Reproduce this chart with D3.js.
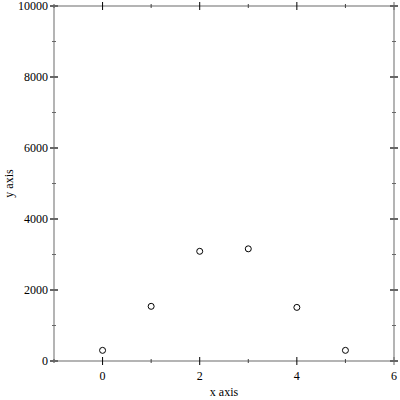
<!DOCTYPE html>
<html><head><meta charset="utf-8">
<script src="https://cdn.jsdelivr.net/npm/d3@7"></script>
<style>body{margin:0;background:#fff}svg{display:block}text{font-family:"Liberation Serif","Times New Roman",serif;font-size:12px;fill:#000}</style>
</head><body><svg id="c" width="400" height="400"></svg>
<script>
const xValues = [0, 1, 2, 3, 4, 5];
const yValues = [300, 1540, 3090, 3160, 1510, 300];
const xMajorTicks = [0, 2, 4, 6];
const xMinorTicks = [-1, 1, 3, 5];
const yMajorTicks = [0, 2000, 4000, 6000, 8000, 10000];
const yMinorTicks = [1000, 3000, 5000, 7000, 9000];
const xLabel = "x axis", yLabel = "y axis";

const svg = d3.select("#c");
const L = 54, R = 394, T = 6, B = 361;
const x = d3.scaleLinear().domain([-1, 6]).range([L, R]);
const y = d3.scaleLinear().domain([0, 10000]).range([B, T]);

// frame
svg.append("rect").attr("x", L).attr("y", T).attr("width", R - L).attr("height", B - T)
  .attr("fill", "none").attr("stroke", "#b4b4b4").attr("stroke-width", 2);

// x ticks bottom & top
const xt = svg.append("g");
function xtick(v, len, col) {
  [B, T].forEach(yy => xt.append("line").attr("x1", x(v)).attr("x2", x(v))
    .attr("y1", yy - len).attr("y2", yy + len).attr("stroke", col).attr("stroke-width", 1));
}
xMajorTicks.forEach(v => xtick(v, 4, v === 6 ? "#666" : "#000"));
xMinorTicks.forEach(v => xtick(v, 2, "#444"));

// y ticks left & right
const yt = svg.append("g");
function ytick(v, len, w) {
  [L, R].forEach(xx => yt.append("line").attr("x1", xx - len).attr("x2", xx + len)
    .attr("y1", y(v)).attr("y2", y(v)).attr("stroke", "#666").attr("stroke-width", w));
}
yMajorTicks.forEach(v => ytick(v, 4, 2));
yMinorTicks.forEach(v => ytick(v, 2, 1));

// tick labels
svg.append("g").selectAll("text").data(xMajorTicks).join("text")
  .attr("x", d => x(d)).attr("y", B + 19).attr("text-anchor", "middle").text(d => d);
svg.append("g").selectAll("text").data(yMajorTicks).join("text")
  .attr("x", L - 6).attr("y", d => y(d) + 4).attr("text-anchor", "end").text(d => d);

// axis labels
svg.append("text").attr("x", (L + R) / 2).attr("y", 396).attr("text-anchor", "middle").text(xLabel);
svg.append("text").attr("transform", `translate(13,${(T + B) / 2}) rotate(-90)`)
  .attr("text-anchor", "middle").text(yLabel);

// points
svg.append("g").selectAll("circle").data(xValues).join("circle")
  .attr("cx", (d, i) => x(d)).attr("cy", (d, i) => y(yValues[i])).attr("r", 3)
  .attr("fill", "none").attr("stroke", "#000").attr("stroke-width", 1);
</script></body></html>
